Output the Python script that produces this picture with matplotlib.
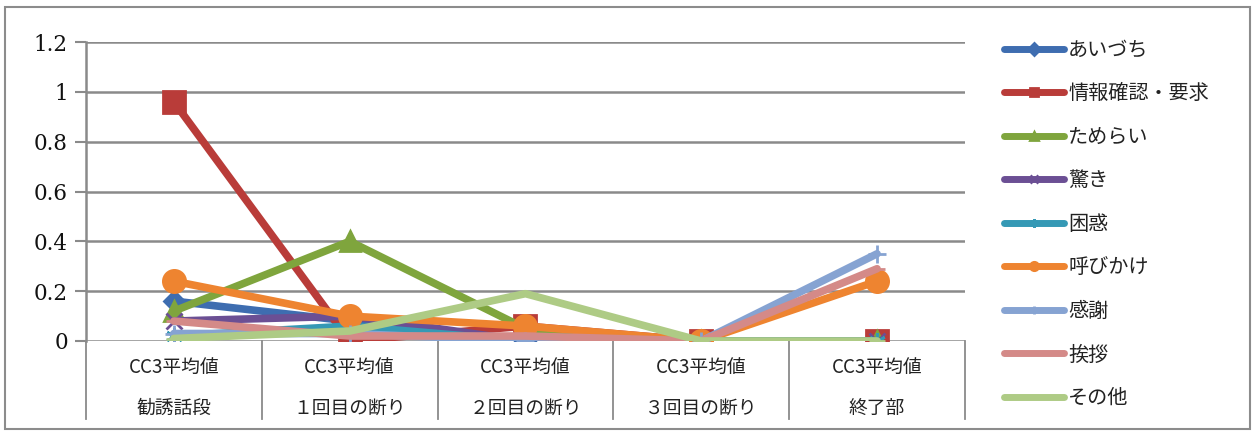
import matplotlib.pyplot as plt
from matplotlib.patches import Rectangle

plt.rcParams['font.family'] = ['Noto Sans CJK JP', 'DejaVu Sans']

# categories along the x axis (two label rows)
stage_top = ['CC3平均値'] * 5
stage_names = ['勧誘話段', '１回目の断り', '２回目の断り', '３回目の断り', '終了部']

series_names = ['あいづち', '情報確認・要求', 'ためらい', '驚き', '困惑',
                '呼びかけ', '感謝', '挨拶', 'その他']

aizuchi = [0.16, 0.08, 0.0, 0.0, 0.0]
kakunin = [0.96, 0.0, 0.06, 0.0, 0.0]
tamerai = [0.12, 0.40, 0.05, 0.0, 0.0]
odoroki = [0.08, 0.10, 0.0, 0.0, 0.0]
konwaku = [0.02, 0.06, 0.0, 0.0, 0.0]
yobikake = [0.24, 0.10, 0.06, 0.0, 0.24]
kansha = [0.03, 0.03, 0.0, 0.0, 0.35]
aisatsu = [0.08, 0.02, 0.02, 0.0, 0.29]
sonota = [0.01, 0.04, 0.19, 0.0, 0.0]

yticks = [0, 0.2, 0.4, 0.6, 0.8, 1, 1.2]

series = [aizuchi, kakunin, tamerai, odoroki, konwaku,
          yobikake, kansha, aisatsu, sonota]
colors = ['#3e6db0', '#b93c39', '#7fa53d', '#6b4f94', '#3599b5',
          '#ee8430', '#86a3d2', '#d48a88', '#aecb85']
markers = ['D', 's', '^', 'x', (6, 2, 0), 'o', '+', '_', '_']
msizes = [10, 16, 15, 11, 12, 16, 13, 11, 11]

fig = plt.figure(figsize=(12.55, 4.34), dpi=100)
fig.patches.append(Rectangle((0.004, 0.012), 0.992, 0.972, transform=fig.transFigure,
                             fill=False, edgecolor='#8c8c8c', linewidth=1.5))

ax = fig.add_axes([0.0685, 0.2143, 0.7004, 0.6889])
x = list(range(len(stage_names)))

for vals, name, c, m, ms in zip(series, series_names, colors, markers, msizes):
    ax.plot(x, vals, color=c, linewidth=5.5, marker=m, markersize=ms,
            markerfacecolor=c, markeredgecolor=c, markeredgewidth=2,
            solid_capstyle='round', label=name, zorder=3)

ax.set_xlim(-0.5, len(stage_names) - 0.5)
ax.set_ylim(0, 1.2)
ax.set_yticks(yticks)
ax.set_yticklabels(['0', '0.2', '0.4', '0.6', '0.8', '1', '1.2'],
                   family='DejaVu Serif', fontsize=15.5, color='#111111')
ax.yaxis.grid(True, color='#8a8a8a', linewidth=1.8)
ax.set_axisbelow(True)
ax.tick_params(axis='y', length=8, width=1.5, color='#8a8a8a', pad=5)
ax.tick_params(axis='x', length=0, labelbottom=False)
for side in ['top', 'right', 'bottom']:
    ax.spines[side].set_visible(False)
ax.spines['left'].set_color('#8a8a8a')
ax.spines['left'].set_linewidth(1.8)

# category label rows and the dividers between them
xf = ax.get_xaxis_transform()
for i in range(len(stage_names) + 1):
    ax.plot([i - 0.5, i - 0.5], [0, -0.26], transform=xf, color='#8a8a8a',
            linewidth=1.3, clip_on=False)
for i, (top, name) in enumerate(zip(stage_top, stage_names)):
    ax.text(i, -0.09, top, transform=xf, ha='center', va='center',
            fontsize=13.5, color='#222222')
    ax.text(i, -0.225, name, transform=xf, ha='center', va='center',
            fontsize=13.5, color='#222222')

leg = ax.legend(loc='upper left', bbox_to_anchor=(1.035, 1.035), frameon=False,
                fontsize=14.5, handlelength=3.0, handletextpad=0.2,
                labelspacing=1.12, borderaxespad=0)
for h in leg.legend_handles:
    h.set_markersize(6)
    h.set_linewidth(5)
for t in leg.get_texts():
    t.set_color('#222222')

fig.savefig('out.png', dpi=100)
